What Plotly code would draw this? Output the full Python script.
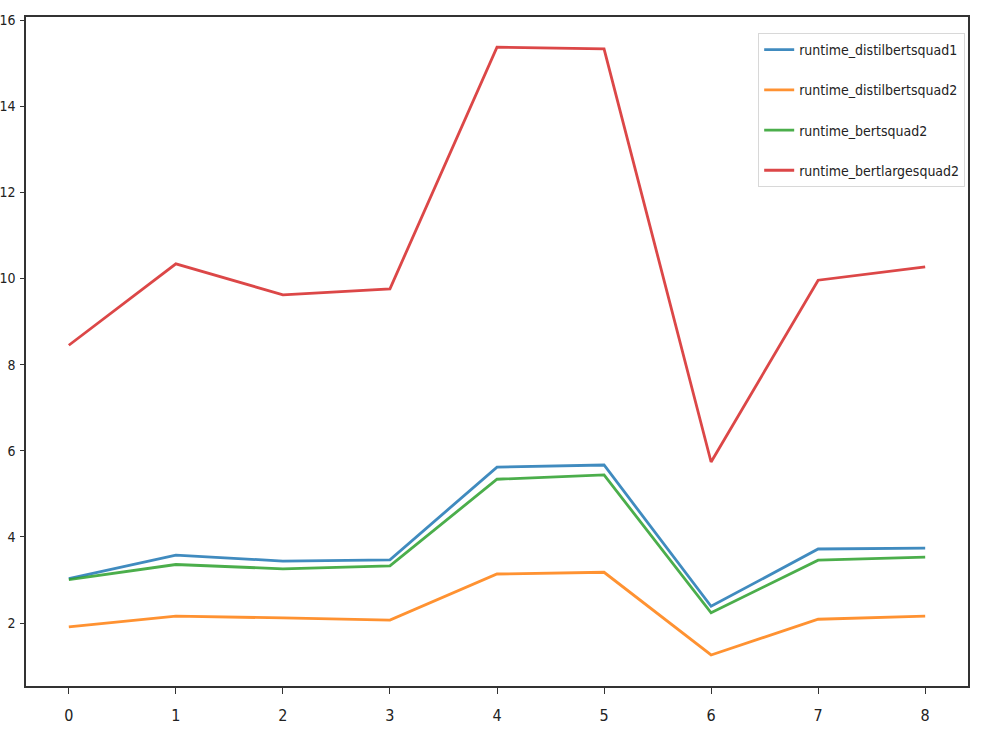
import plotly.graph_objects as go

x_vals = [0, 1, 2, 3, 4, 5, 6, 7, 8]
runtime_distilbertsquad1 = [3.03, 3.58, 3.44, 3.47, 5.62, 5.67, 2.39, 3.72, 3.74]
runtime_distilbertsquad2 = [1.91, 2.16, 2.12, 2.07, 3.14, 3.18, 1.26, 2.09, 2.16]
runtime_bertsquad2 = [3.01, 3.36, 3.26, 3.33, 5.34, 5.44, 2.24, 3.46, 3.53]
runtime_bertlargesquad2 = [8.45, 10.34, 9.62, 9.76, 15.37, 15.33, 5.74, 9.96, 10.27]

series = [
    ("runtime_distilbertsquad1", runtime_distilbertsquad1, "#1f77b4"),
    ("runtime_distilbertsquad2", runtime_distilbertsquad2, "#ff7f0e"),
    ("runtime_bertsquad2", runtime_bertsquad2, "#2ca02c"),
    ("runtime_bertlargesquad2", runtime_bertlargesquad2, "#d62728"),
]

fig = go.Figure()
for name, vals, color in series:
    fig.add_trace(go.Scatter(x=x_vals, y=vals, mode="lines", name=name, legendgroup=name,
                             line=dict(color=color, width=2.8), opacity=0.85))

font_family = "DejaVu Sans Condensed, DejaVu Sans"
fig.update_layout(
    width=1000, height=750,
    margin=dict(l=26, r=32, t=17, b=64),
    paper_bgcolor="white", plot_bgcolor="white",
    font=dict(family=font_family, size=15, color="#222"),
    showlegend=True,
    legend=dict(x=0.997, y=0.976, xanchor="right", yanchor="top",
                bgcolor="rgba(255,255,255,0.9)", bordercolor="#d8d8d8", borderwidth=1,
                font=dict(family=font_family, size=14, color="#222"),
                tracegroupgap=19, itemwidth=30),
)
fig.update_xaxes(range=[-0.4, 8.4], tickvals=x_vals, ticktext=[str(v) for v in x_vals],
                 showgrid=False, zeroline=False, showline=True, linecolor="#333", linewidth=1.5,
                 mirror=True, ticks="outside", ticklen=6, tickcolor="#333", automargin=False,
                 ticklabelstandoff=8, tickfont=dict(size=16))
fig.update_yaxes(range=[0.54, 16.07], tickvals=[2, 4, 6, 8, 10, 12, 14, 16],
                 showgrid=False, zeroline=False, showline=True, linecolor="#333", linewidth=1.5,
                 mirror=True, ticks="outside", ticklen=4, tickcolor="#333", automargin=False,
                 ticklabelstandoff=2, tickfont=dict(size=14))

fig.write_html("out.html")
